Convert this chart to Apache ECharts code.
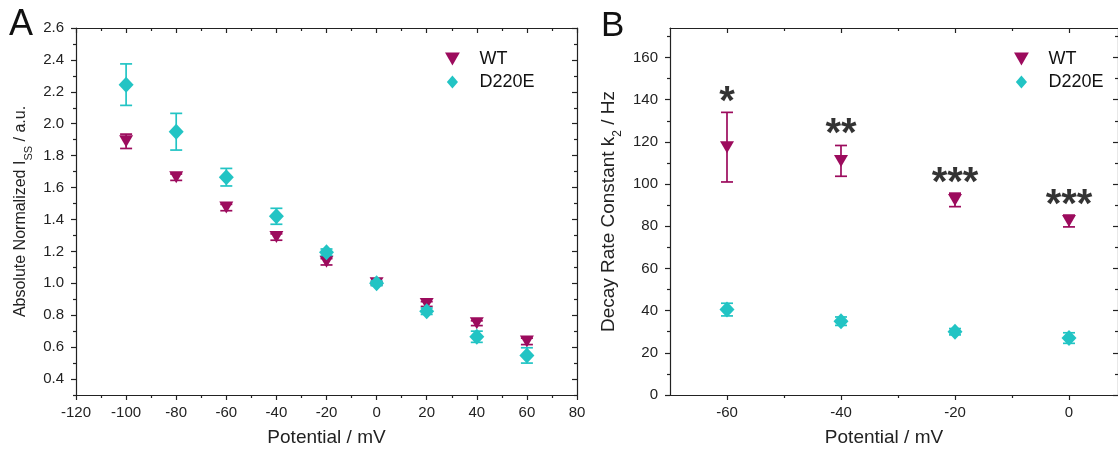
<!DOCTYPE html>
<html>
<head>
<meta charset="utf-8">
<script src="https://cdn.jsdelivr.net/npm/echarts@6/dist/echarts.min.js"></script>
<style>
html,body{margin:0;padding:0;background:#fff;}
#chart{width:1118px;height:452px;}
</style>
</head>
<body>
<div id="chart"></div>
<script>
// ---------- data ----------
const potentialA = [-100, -80, -60, -40, -20, 0, 20, 40, 60];
const wtA = [1.89, 1.665, 1.475, 1.29, 1.135, 1.0, 0.87, 0.75, 0.636];
const wtAErr = [0.045, 0.02, 0.02, 0.02, 0.02, 0.01, 0.015, 0.015, 0.02];
const d220eA = [2.245, 1.95, 1.665, 1.42, 1.195, 1.0, 0.825, 0.665, 0.548];
const d220eAErr = [0.13, 0.115, 0.055, 0.05, 0.02, 0.015, 0.02, 0.035, 0.048];

const potentialB = [-60, -40, -20, 0];
const wtB = [117.5, 111, 92.5, 82.5];
const wtBErr = [16.5, 7.3, 3.2, 2.8];
const d220eB = [40.5, 35, 30, 27];
const d220eBErr = [3, 2, 1.5, 2.5];
const starLabels = ['*', '**', '***', '***'];
const starY = [143, 127.8, 104.8, 94.6];

// tick values
const xTicksA = [-120, -100, -80, -60, -40, -20, 0, 20, 40, 60, 80];
const xMinorA = [-110, -90, -70, -50, -30, -10, 10, 30, 50, 70];
const yTicksA = [0.4, 0.6, 0.8, 1.0, 1.2, 1.4, 1.6, 1.8, 2.0, 2.2, 2.4, 2.6];
const yMinorA = [0.3, 0.5, 0.7, 0.9, 1.1, 1.3, 1.5, 1.7, 1.9, 2.1, 2.3, 2.5];
const xTicksB = [-60, -40, -20, 0];
const xMinorB = [-50, -30, -10];
const yTicksB = [0, 20, 40, 60, 80, 100, 120, 140, 160];
const yMinorB = [10, 30, 50, 70, 90, 110, 130, 150, 170];

// ---------- style ----------
const FONT = 'Liberation Sans, Arial, sans-serif';
const AX = '#222';
const WT_COLOR = '#9c0b5d';
const D_COLOR = '#22c4c4';
const TRI = 'path://M0,0 L12,0 L6,10.5 Z';
const DIA = 'path://M6,0 L12,7 L6,14 L0,7 Z';

function makeAxes(kind, grid, min, max, majors, minors, fmt, name, nameGap, nameStyle) {
  const pos = kind === 'x' ? ['bottom', 'top'] : ['left', 'right'];
  const base = { type: 'value', gridIndex: grid, min: min, max: max, splitLine: { show: false } };
  const line = { show: true, onZero: false, lineStyle: { color: AX, width: 1.2 } };
  const noLine = { show: false, onZero: false };
  const tl = { color: AX, width: 1.2 };
  return [
    Object.assign({}, base, {
      position: pos[0], axisLine: line,
      axisTick: { show: true, inside: false, length: 5, customValues: majors, lineStyle: tl },
      axisLabel: { show: true, customValues: majors, formatter: fmt, color: AX, fontSize: 15, fontFamily: FONT, margin: kind === 'x' ? 10 : 12 },
      name: name, nameLocation: 'middle', nameGap: nameGap, nameTextStyle: nameStyle
    }),
    Object.assign({}, base, {
      position: pos[0], axisLine: noLine,
      axisTick: { show: true, inside: false, length: 3, customValues: minors, lineStyle: tl },
      axisLabel: { show: false }
    }),
    Object.assign({}, base, {
      position: pos[1], axisLine: line,
      axisTick: { show: true, inside: true, length: 5, customValues: majors, lineStyle: tl },
      axisLabel: { show: false }
    }),
    Object.assign({}, base, {
      position: pos[1], axisLine: noLine,
      axisTick: { show: true, inside: true, length: 3, customValues: minors, lineStyle: tl },
      axisLabel: { show: false }
    })
  ];
}

function errData(xs, ys, es) {
  return xs.map((x, i) => [x, ys[i] - es[i], ys[i] + es[i]]);
}
function errSeries(data, color, xi, yi, z) {
  return {
    type: 'custom', coordinateSystem: 'cartesian2d', xAxisIndex: xi, yAxisIndex: yi, z: z,
    silent: true, data: data,
    encode: { x: 0, y: [1, 2] },
    renderItem: function (params, api) {
      const x = api.value(0);
      const lo = api.coord([x, api.value(1)]);
      const hi = api.coord([x, api.value(2)]);
      const w = 6;
      const st = { stroke: color, lineWidth: 1.7 };
      return {
        type: 'group', children: [
          { type: 'line', shape: { x1: lo[0], y1: lo[1], x2: hi[0], y2: hi[1] }, style: st },
          { type: 'line', shape: { x1: lo[0] - w, y1: lo[1], x2: lo[0] + w, y2: lo[1] }, style: st },
          { type: 'line', shape: { x1: hi[0] - w, y1: hi[1], x2: hi[0] + w, y2: hi[1] }, style: st }
        ]
      };
    }
  };
}
function pts(xs, ys) { return xs.map((x, i) => [x, ys[i]]); }

const nameStyleX = { fontSize: 19, fontFamily: FONT, color: AX };
const nameStyleXB = { fontSize: 19, fontFamily: FONT, color: AX, padding: [0, 20, 0, 0] };
const nameStyleYA = {
  fontSize: 16, fontFamily: FONT, color: AX,
  rich: { sub: { fontSize: 11, fontFamily: FONT, color: AX, verticalAlign: 'bottom', lineHeight: 26 } }
};
const nameStyleYB = {
  fontSize: 19, fontFamily: FONT, color: AX,
  rich: { sub: { fontSize: 12, fontFamily: FONT, color: AX, verticalAlign: 'bottom', lineHeight: 30 } }
};

const xAxes = []
  .concat(makeAxes('x', 0, -120, 80, xTicksA, xMinorA, v => String(v), 'Potential / mV', 33, nameStyleX))
  .concat(makeAxes('x', 1, -70, 8.6, xTicksB, xMinorB, v => String(v), 'Potential / mV', 33, nameStyleXB));
const yAxes = []
  .concat(makeAxes('y', 0, 0.3, 2.6, yTicksA, yMinorA, v => v.toFixed(1), 'Absolute Normalized I{sub|SS} / a.u.', 42, nameStyleYA))
  .concat(makeAxes('y', 1, 0, 174, yTicksB, yMinorB, v => String(v), 'Decay Rate Constant k{sub|2} / Hz', 46, nameStyleYB));

const legendBase = {
  orient: 'vertical', itemWidth: 44, itemHeight: 13, itemGap: 5,
  textStyle: { fontSize: 18, fontFamily: FONT, color: '#111', lineHeight: 18 },
  data: [{ name: 'WT', icon: TRI }, { name: 'D220E', icon: DIA }],
  selectedMode: false
};

const option = {
  backgroundColor: '#fff',
  animation: false,
  grid: [
    { left: 76, top: 28, width: 501, height: 369 },
    { left: 670, top: 28, width: 449, height: 369 }
  ],
  xAxis: xAxes,
  yAxis: yAxes,
  legend: [
    Object.assign({}, legendBase, { left: 440, top: 45 }),
    Object.assign({}, legendBase, { left: 1009, top: 45 })
  ],
  graphic: [
    { type: 'text', left: 9, top: 7, style: { text: 'A', fontSize: 36, fontFamily: FONT, fill: '#111' } },
    { type: 'text', left: 601, top: 9, style: { text: 'B', fontSize: 35, fontFamily: FONT, fill: '#111' } }
  ],
  series: [
    errSeries(errData(potentialA, wtA, wtAErr), WT_COLOR, 0, 0, 2),
    { name: 'WT', type: 'scatter', xAxisIndex: 0, yAxisIndex: 0, z: 3, symbol: TRI, symbolSize: [14, 12], itemStyle: { color: WT_COLOR, opacity: 1 }, data: pts(potentialA, wtA) },
    errSeries(errData(potentialA, d220eA, d220eAErr), D_COLOR, 0, 0, 4),
    { name: 'D220E', type: 'scatter', xAxisIndex: 0, yAxisIndex: 0, z: 5, symbol: DIA, symbolKeepAspect: false, symbolSize: [15, 16], itemStyle: { color: D_COLOR, opacity: 1 }, data: pts(potentialA, d220eA) },

    errSeries(errData(potentialB, wtB, wtBErr), WT_COLOR, 4, 4, 2),
    { name: 'WT', type: 'scatter', xAxisIndex: 4, yAxisIndex: 4, z: 3, symbol: TRI, symbolSize: [14, 12], itemStyle: { color: WT_COLOR, opacity: 1 }, data: pts(potentialB, wtB) },
    errSeries(errData(potentialB, d220eB, d220eBErr), D_COLOR, 4, 4, 4),
    { name: 'D220E', type: 'scatter', xAxisIndex: 4, yAxisIndex: 4, z: 5, symbol: DIA, symbolKeepAspect: false, symbolSize: [15, 16], itemStyle: { color: D_COLOR, opacity: 1 }, data: pts(potentialB, d220eB) },
    {
      name: 'stars', type: 'scatter', xAxisIndex: 4, yAxisIndex: 4, z: 6, symbolSize: 0, silent: true,
      data: potentialB.map((x, i) => [x, starY[i], starLabels[i]]),
      label: {
        show: true, position: 'inside', formatter: p => p.value[2],
        fontSize: 40, fontWeight: 'bold', fontFamily: FONT, color: '#000', offset: [0, 10]
      }
    }
  ]
};

const chart = echarts.init(document.getElementById('chart'), null, { renderer: 'canvas' });
chart.setOption(option);
</script>
</body>
</html>
